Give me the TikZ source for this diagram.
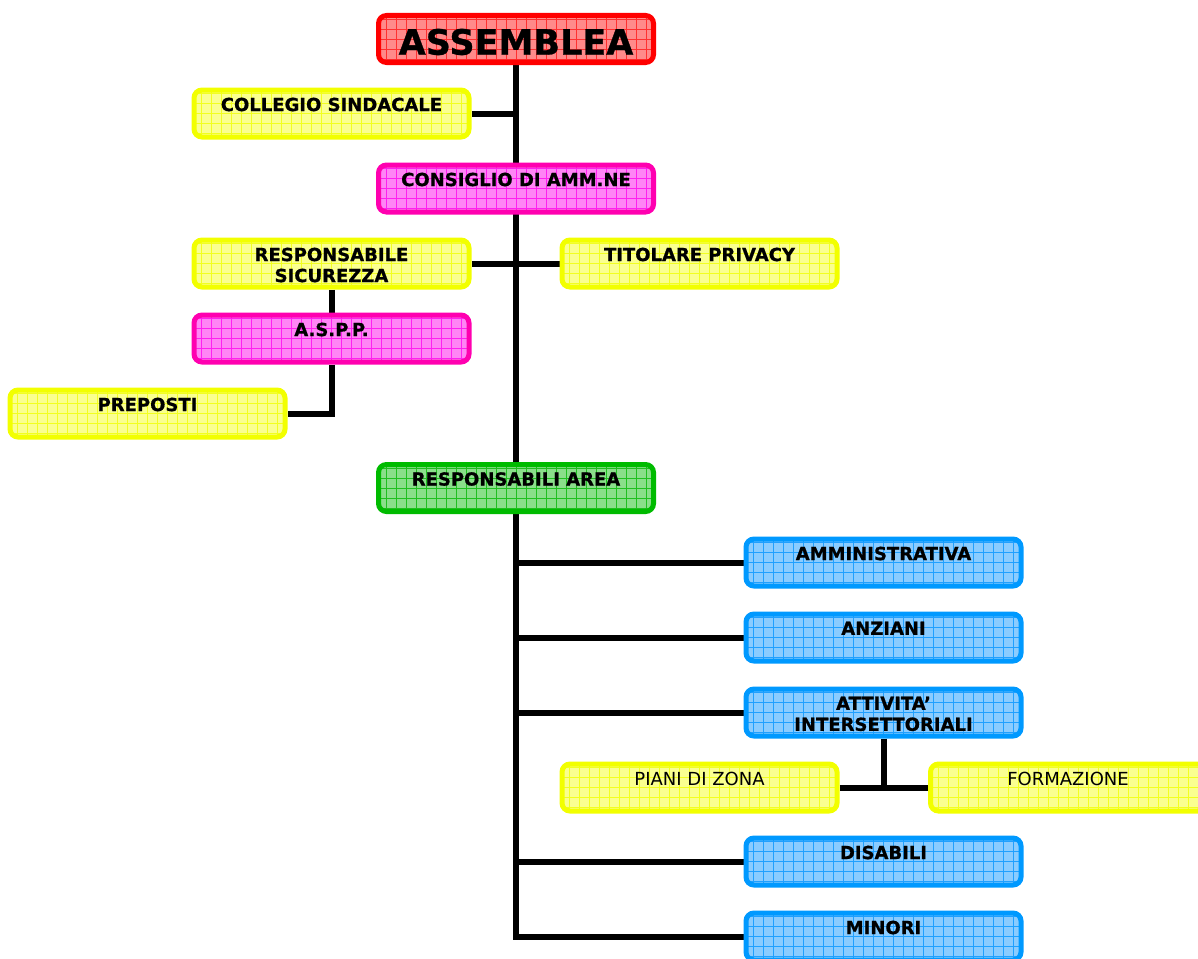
\documentclass[tikz,border=0pt]{standalone}
\usepackage{fontspec}
\setmainfont{DejaVu Sans}[BoldFeatures={FakeBold=0.8}]
\pgfdeclarelayer{bg}
\pgfsetlayers{bg,main}
\definecolor{redB}{HTML}{FF0000}\definecolor{redF}{HTML}{FF8A8A}\definecolor{redG}{HTML}{FF3030}
\definecolor{yelB}{HTML}{F2FF00}\definecolor{yelF}{HTML}{FAFF90}\definecolor{yelG}{HTML}{F2FF20}
\definecolor{magB}{HTML}{FF00B0}\definecolor{magF}{HTML}{FF85F5}\definecolor{magG}{HTML}{FF20F0}
\definecolor{grnB}{HTML}{00BB00}\definecolor{grnF}{HTML}{8ADF8A}\definecolor{grnG}{HTML}{20C020}
\definecolor{bluB}{HTML}{0099FF}\definecolor{bluF}{HTML}{8ACCFF}\definecolor{bluG}{HTML}{20A0FF}
\tikzset{
  box/.style n args={3}{draw=#1, fill=#2, line width=5pt, rounded corners=8pt,
    minimum width=275, minimum height=47, inner sep=0pt,
    path picture={\draw[#3, line width=0.5pt]
      ([xshift=1pt,yshift=1pt]path picture bounding box.south west) grid[step=10pt]
      (path picture bounding box.north east);}},
  redbox/.style={box={redB}{redF}{redG}},
  yelbox/.style={box={yelB}{yelF}{yelG}},
  magbox/.style={box={magB}{magF}{magG}},
  grnbox/.style={box={grnB}{grnF}{grnG}},
  blubox/.style={box={bluB}{bluF}{bluG}},
  lbl/.style={anchor=north, inner sep=0pt, align=center, font=\fontsize{18}{21}\selectfont\bfseries},
  lblr/.style={anchor=north, inner sep=0pt, align=center, font=\fontsize{18}{21}\selectfont},
  conn/.style={line width=6pt, black},
}
\begin{document}
\begin{tikzpicture}[x=1pt,y=-1pt]
\useasboundingbox (0,0) rectangle (1198,958);
% boxes
\node[redbox] (ass) at (516,39) {};
\node[anchor=center, inner sep=0pt, font=\fontsize{35}{40}\selectfont\bfseries] (assT) at (516,42) {ASSEMBLEA};
\node[yelbox] (col) at (331.5,113.5) {};
\node[lbl] (colT) at ([yshift=-10]col.north) {COLLEGIO SINDACALE};
\node[magbox] (cda) at (516,188.5) {};
\node[lbl] (cdaT) at ([yshift=-10]cda.north) {CONSIGLIO DI AMM.NE};
\node[yelbox] (rs) at (331.5,263.5) {};
\node[lbl] (rsT) at ([yshift=-10]rs.north) {RESPONSABILE\\SICUREZZA};
\node[yelbox] (tp) at (699.5,263.5) {};
\node[lbl] (tpT) at ([yshift=-10]tp.north) {TITOLARE PRIVACY};
\node[magbox] (asp) at (331.5,338.5) {};
\node[lbl] (aspT) at ([yshift=-10]asp.north) {A.S.P.P.};
\node[yelbox] (pre) at (147.5,413.5) {};
\node[lbl] (preT) at ([yshift=-10]pre.north) {PREPOSTI};
\node[grnbox] (ra) at (516,488) {};
\node[lbl] (raT) at ([yshift=-10]ra.north) {RESPONSABILI AREA};
\node[blubox] (amm) at (883.5,562.5) {};
\node[lbl] (ammT) at ([yshift=-10]amm.north) {AMMINISTRATIVA};
\node[blubox] (anz) at (883.5,637.5) {};
\node[lbl] (anzT) at ([yshift=-10]anz.north) {ANZIANI};
\node[blubox] (att) at (883.5,712.5) {};
\node[lbl] (attT) at ([yshift=-10]att.north) {ATTIVITA’\\INTERSETTORIALI};
\node[yelbox] (pz) at (699.5,787.5) {};
\node[lblr] (pzT) at ([yshift=-10]pz.north) {PIANI DI ZONA};
\node[yelbox] (for) at (1068,787.5) {};
\node[lblr] (forT) at ([yshift=-10]for.north) {FORMAZIONE};
\node[blubox] (dis) at (883.5,861.5) {};
\node[lbl] (disT) at ([yshift=-10]dis.north) {DISABILI};
\node[blubox] (min) at (883.5,936.5) {};
\node[lbl] (minT) at ([yshift=-10]min.north) {MINORI};
% connectors
\begin{pgfonlayer}{bg}
\draw[conn] (ass.south) -- (ra.north);
\draw[conn] (col.east) -- (col.east -| ass.south);
\draw[conn] (rs.east) -- (tp.west);
\draw[conn] (rs.south) -- (asp.north);
\draw[conn] (asp.south) |- (pre.east);
\draw[conn] (ra.south) |- (min.west);
\draw[conn] (amm.west) -- (amm.west -| ra.south);
\draw[conn] (anz.west) -- (anz.west -| ra.south);
\draw[conn] (att.west) -- (att.west -| ra.south);
\draw[conn] (dis.west) -- (dis.west -| ra.south);
\draw[conn] (att.south) -- (att.south |- pz.east);
\draw[conn] (pz.east) -- (for.west);
\end{pgfonlayer}
\end{tikzpicture}
\end{document}
